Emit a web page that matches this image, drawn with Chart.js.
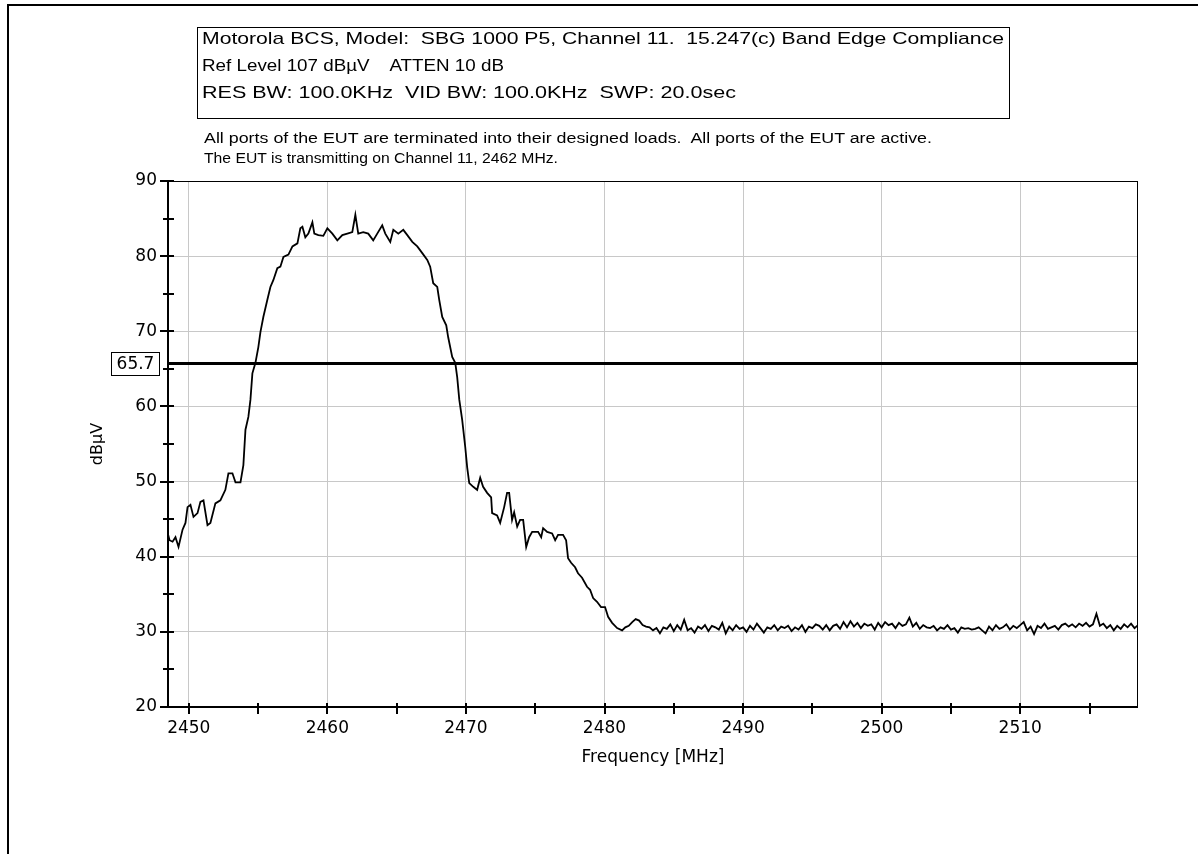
<!DOCTYPE html>
<html>
<head>
<meta charset="utf-8">
<script src="https://cdn.jsdelivr.net/npm/chart.js@4.4.1/dist/chart.umd.min.js"></script>
<style>
  html, body { margin:0; padding:0; width:1198px; height:854px; overflow:hidden; background:#fff; }
  #frame { position:absolute; left:7px; top:4px; width:1400px; height:1000px; border-top:2px solid #000; border-left:2px solid #000; }
  #head { position:absolute; left:197px; top:27px; width:813px; height:92px; border:1px solid #000; box-sizing:border-box; }
  .txt { position:absolute; white-space:pre; color:#000; line-height:20px; transform-origin:0 50%; }
  .big { font-family:"Liberation Sans", Arial, sans-serif; font-size:17px; left:202px; }
  .small { font-family:"Liberation Sans", Arial, sans-serif; font-size:14px; left:204px; }
  #chart { position:absolute; left:0; top:0; }
</style>
</head>
<body>
<canvas id="chart" width="1198" height="854"></canvas>
<div id="frame"></div>
<div id="head"></div>
<div class="txt big" style="top:29px" data-w="802">Motorola BCS, Model:  SBG 1000 P5, Channel 11.  15.247(c) Band Edge Compliance</div>
<div class="txt big" style="top:56px" data-w="302">Ref Level 107 dBµV    ATTEN 10 dB</div>
<div class="txt big" style="top:83px" data-w="534">RES BW: 100.0KHz  VID BW: 100.0KHz  SWP: 20.0sec</div>
<div class="txt small" style="top:128px" data-w="728">All ports of the EUT are terminated into their designed loads.  All ports of the EUT are active.</div>
<div class="txt small" style="top:148px" data-w="354">The EUT is transmitting on Channel 11, 2462 MHz.</div>
<script>
// trace: signal part (irregular sampling)
const freqMHz = [2448.5, 2448.61, 2448.83, 2449.04, 2449.26, 2449.55, 2449.76, 2449.91, 2450.12, 2450.34,
  2450.63, 2450.84, 2451.06, 2451.35, 2451.56, 2451.92, 2452.28, 2452.64, 2452.86, 2453.15,
  2453.37, 2453.73, 2453.94, 2454.09, 2454.30, 2454.45, 2454.59, 2454.81, 2455.02, 2455.17,
  2455.38, 2455.67, 2455.89, 2456.10, 2456.39, 2456.61, 2456.83, 2457.19, 2457.48, 2457.84,
  2458.05, 2458.20, 2458.41, 2458.63, 2458.92, 2459.06, 2459.35, 2459.71, 2460.00, 2460.36,
  2460.72, 2461.08, 2461.44, 2461.80, 2462.02, 2462.23, 2462.59, 2462.95, 2463.31, 2463.60,
  2463.96, 2464.18, 2464.54, 2464.76, 2465.12, 2465.48, 2465.77, 2466.13, 2466.49, 2466.85,
  2467.21, 2467.42, 2467.64, 2467.93, 2468.07, 2468.29, 2468.58, 2468.72, 2469.01, 2469.23,
  2469.37, 2469.52, 2469.73, 2469.95, 2470.09, 2470.24, 2470.53, 2470.81, 2471.03, 2471.24,
  2471.53, 2471.82, 2471.89, 2472.25, 2472.47, 2472.76, 2472.97, 2473.12, 2473.33, 2473.48,
  2473.70, 2473.91, 2474.13, 2474.35, 2474.56, 2474.78, 2475.21, 2475.43, 2475.57, 2475.86,
  2476.22, 2476.44, 2476.65, 2477.01, 2477.23, 2477.37, 2477.59, 2477.88, 2478.09, 2478.38,
  2478.74, 2478.96, 2479.18, 2479.46, 2479.75, 2480.04, 2480.26, 2480.55, 2480.91, 2481.27];
const levelDbuv = [43.0, 42.2, 42.0, 42.6, 41.3, 43.6, 44.5, 46.6, 46.9, 45.3,
  45.8, 47.3, 47.5, 44.2, 44.5, 47.1, 47.5, 48.9, 51.1, 51.1,
  49.9, 49.9, 52.2, 56.9, 58.6, 60.9, 64.4, 65.8, 67.9, 69.9,
  71.9, 74.2, 75.9, 76.8, 78.4, 78.6, 79.9, 80.2, 81.3, 81.7,
  83.7, 83.9, 82.5, 83.0, 84.5, 83.0, 82.8, 82.7, 83.7, 83.0,
  82.1, 82.8, 83.0, 83.2, 85.5, 83.0, 83.2, 83.0, 82.1, 83.0,
  84.1, 83.0, 81.9, 83.5, 83.0, 83.5, 82.8, 81.9, 81.3, 80.4,
  79.5, 78.6, 76.4, 75.9, 74.2, 71.9, 70.8, 69.2, 66.6, 65.8,
  63.9, 60.9, 58.2, 54.6, 51.9, 49.8, 49.3, 48.9, 50.5, 49.3,
  48.5, 47.9, 45.8, 45.5, 44.5, 46.6, 48.5, 48.5, 44.9, 45.9,
  44.0, 44.9, 44.9, 41.3, 42.6, 43.3, 43.3, 42.6, 43.8, 43.3,
  43.1, 42.2, 42.9, 42.9, 42.2, 39.8, 39.2, 38.6, 37.8, 37.2,
  36.0, 35.6, 34.5, 34.0, 33.3, 33.3, 32.0, 31.2, 30.5, 30.2];

// noise floor, swept at 0.25 MHz from 2481.5 MHz
const floorStartMHz = 2481.5;
const floorStepMHz = 0.25;
const floorDbuv = [30.6, 30.8, 31.3, 31.7, 31.5, 30.9, 30.7, 30.6, 30.2, 30.5,
  29.8, 30.6, 30.4, 31.0, 30.1, 30.9, 30.3, 31.6, 30.2, 30.5,
  29.9, 30.7, 30.4, 30.9, 30.1, 30.8, 30.6, 30.3, 31.2, 29.8,
  30.7, 30.2, 30.9, 30.4, 30.6, 30.0, 30.8, 30.3, 31.1, 30.5,
  29.9, 30.6, 30.4, 30.9, 30.2, 30.7, 30.5, 30.8, 30.1, 30.6,
  30.3, 30.9, 30.0, 30.7, 30.5, 31.0, 30.8, 30.3, 30.9, 30.2,
  30.8, 31.0, 30.4, 31.3, 30.6, 31.4, 30.7, 31.2, 30.5, 31.1,
  30.8, 31.0, 30.3, 31.2, 30.6, 31.3, 30.9, 31.1, 30.5, 31.2,
  30.8, 31.0, 31.9, 30.7, 31.2, 30.4, 30.9, 30.6, 30.5, 30.8,
  30.2, 30.6, 30.4, 30.9, 30.3, 30.5, 29.9, 30.6, 30.4, 30.5,
  30.3, 30.4, 30.6, 30.2, 29.8, 30.7, 30.2, 30.9, 30.4, 30.6,
  31.0, 30.3, 30.8, 30.5, 30.9, 31.3, 30.2, 30.7, 29.7, 30.8,
  30.5, 31.1, 30.4, 30.6, 30.8, 30.3, 30.9, 31.1, 30.7, 31.0,
  30.6, 31.1, 30.8, 31.2, 30.7, 31.0, 32.4, 30.8, 31.1, 30.5,
  30.9, 30.2, 30.8, 30.4, 31.0, 30.6, 31.1, 30.5, 30.9];

const limitDbuv = 65.7;
const limitLabel = '65.7';
const xRange = [2448.5, 2518.5];
const yRange = [20, 90];
const xMajorTicks = [2450, 2460, 2470, 2480, 2490, 2500, 2510];
const xTickLabels = ['2450', '2460', '2470', '2480', '2490', '2500', '2510'];
const xMinorTicks = [2455, 2465, 2475, 2485, 2495, 2505, 2515];
const yMajorTicks = [20, 30, 40, 50, 60, 70, 80, 90];
const yTickLabels = ['20', '30', '40', '50', '60', '70', '80', '90'];
const yMinorTicks = [25, 35, 45, 55, 65, 75, 85];

const tracePoints = freqMHz.map((f, i) => ({x: f, y: levelDbuv[i]}));
floorDbuv.forEach((v, i) => tracePoints.push({x: floorStartMHz + i * floorStepMHz, y: v}));

const axisFont = {family: 'DejaVu Sans', size: 17, lineHeight: 1.2};

const frameAndTicks = {
  id: 'frameAndTicks',
  afterDatasetsDraw(chart) {
    const {ctx, chartArea: a, scales: {x, y}} = chart;
    ctx.save();
    ctx.strokeStyle = '#000';
    ctx.lineWidth = 1;
    ctx.strokeRect(a.left + 0.5, a.top + 0.5, a.right - a.left - 1, a.bottom - a.top - 1);
    ctx.lineWidth = 2;
    ctx.beginPath();
    ctx.moveTo(a.left, a.top);
    ctx.lineTo(a.left, a.bottom);
    ctx.lineTo(a.right, a.bottom);
    ctx.stroke();
    ctx.beginPath();
    yMajorTicks.forEach(v => {
      const py = Math.round(y.getPixelForValue(v));
      ctx.moveTo(a.left - 8, py); ctx.lineTo(a.left + 6, py);
    });
    yMinorTicks.forEach(v => {
      const py = Math.round(y.getPixelForValue(v));
      ctx.moveTo(a.left - 5, py); ctx.lineTo(a.left + 6, py);
    });
    xMajorTicks.concat(xMinorTicks).forEach(v => {
      const px = Math.round(x.getPixelForValue(v));
      ctx.moveTo(px, a.bottom - 4); ctx.lineTo(px, a.bottom + 7);
    });
    ctx.stroke();

    // limit value box on the left of the axis
    const ly = Math.round(y.getPixelForValue(limitDbuv));
    ctx.fillStyle = '#fff';
    ctx.fillRect(111, ly - 12, 49, 24);
    ctx.lineWidth = 1;
    ctx.strokeRect(111.5, ly - 11.5, 48, 23);
    ctx.fillStyle = '#000';
    ctx.font = '17px "DejaVu Sans"';
    ctx.textAlign = 'center';
    ctx.textBaseline = 'middle';
    ctx.fillText(limitLabel, 135.5, ly + 1);
    ctx.restore();
  }
};

new Chart(document.getElementById('chart'), {
  type: 'line',
  data: {
    datasets: [{
      data: tracePoints,
      borderColor: '#000',
      borderWidth: 1.8,
      pointRadius: 0,
      tension: 0,
      fill: false
    }, {
      data: [{x: xRange[0], y: limitDbuv}, {x: xRange[1], y: limitDbuv}],
      borderColor: '#000',
      borderWidth: 3,
      pointRadius: 0,
      fill: false
    }]
  },
  options: {
    responsive: false,
    animation: false,
    events: [],
    layout: {padding: {top: 181, right: 60, left: 0, bottom: 0}},
    plugins: {legend: {display: false}, tooltip: {enabled: false}},
    scales: {
      x: {
        type: 'linear',
        min: xRange[0],
        max: xRange[1],
        afterBuildTicks: s => { s.ticks = xMajorTicks.map(v => ({value: v})); },
        afterFit: s => { s.height = 147; },
        grid: {color: '#c8c8c8', lineWidth: 1, drawTicks: false},
        border: {display: false},
        ticks: {
          padding: 11,
          color: '#000',
          font: axisFont,
          maxRotation: 0,
          autoSkip: false,
          callback: (v, i) => xTickLabels[i]
        },
        title: {
          display: true,
          text: 'Frequency [MHz]',
          color: '#000',
          font: axisFont,
          padding: {top: 0, bottom: 86}
        }
      },
      y: {
        min: yRange[0],
        max: yRange[1],
        afterBuildTicks: s => { s.ticks = yMajorTicks.map(v => ({value: v})); },
        afterFit: s => { s.width = 168; },
        grid: {color: '#c8c8c8', lineWidth: 1, drawTicks: false},
        border: {display: false},
        ticks: {
          padding: 11,
          color: '#000',
          font: axisFont,
          callback: (v, i) => yTickLabels[i]
        },
        title: {
          display: true,
          text: 'dBµV',
          color: '#000',
          font: {family: 'DejaVu Sans', size: 16, lineHeight: 1.2},
          padding: {top: 88, bottom: 0}
        }
      }
    }
  },
  plugins: [frameAndTicks]
});

document.querySelectorAll('[data-w]').forEach(el => {
  const w = el.getBoundingClientRect().width;
  el.style.transform = 'scaleX(' + (+el.dataset.w / w).toFixed(4) + ')';
});
</script>
</body>
</html>
